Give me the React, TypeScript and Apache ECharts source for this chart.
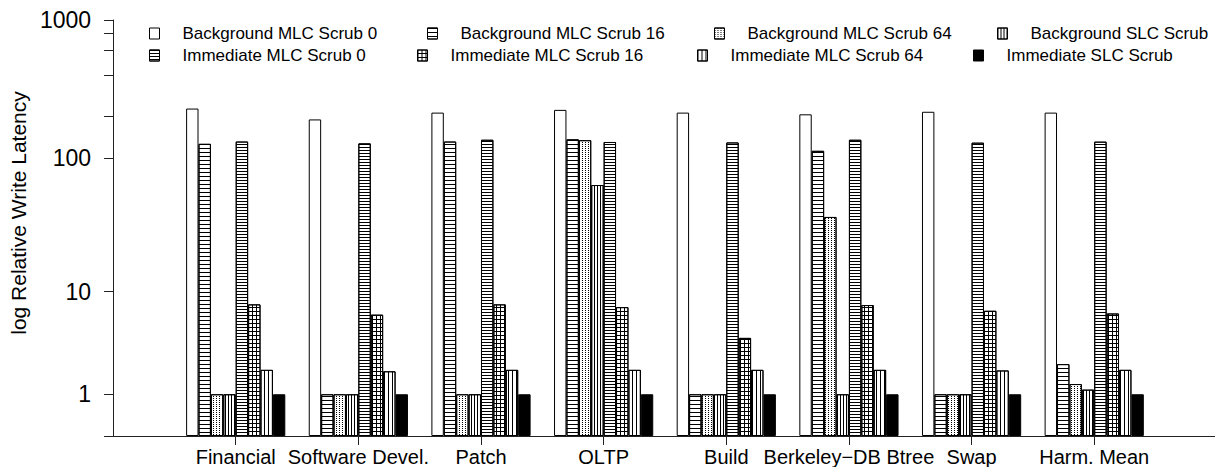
import React, { useEffect, useRef } from 'react';
import * as echarts from 'echarts';

const categories = ['Financial', 'Software Devel.', 'Patch', 'OLTP', 'Build', 'Berkeley\u2212DB Btree', 'Swap', 'Harm. Mean'];

const seriesNames = [
  'Background MLC Scrub 0',
  'Background MLC Scrub 16',
  'Background MLC Scrub 64',
  'Background SLC Scrub',
  'Immediate MLC Scrub 0',
  'Immediate MLC Scrub 16',
  'Immediate MLC Scrub 64',
  'Immediate SLC Scrub',
];

const bgMlc0 = [229, 191, 214, 224, 214, 208, 217, 214];
const bgMlc16 = [127, 1, 132, 137, 1, 113, 1, 2.3];
const bgMlc64 = [1, 1, 1, 135, 1, 37, 1, 1.37];
const bgSlc = [1, 1, 1, 63.6, 1, 1, 1, 1.16];
const imMlc0 = [132, 128, 136, 131, 130, 136, 129.5, 131.7];
const imMlc16 = [7.9, 6.5, 7.9, 7.5, 4.1, 7.8, 7.0, 6.65];
const imMlc64 = [2, 1.93, 2, 2, 2, 2, 1.97, 2];
const imSlc = [1, 1, 1, 1, 1, 1, 1, 1];

const yTickLabels = [1, 10, 100, 1000];
const yMinorTicks = [0, 200, 400, 600, 800];

const t = (v: number) => Math.log10(v + 1);

const INK = '#000';

const decals: any[] = [
  null,
  { symbol: 'rect', symbolSize: 1, color: INK, dashArrayX: [1, 0], dashArrayY: [1, 3] },
  { symbol: 'rect', symbolSize: 1, color: INK, dashArrayX: [1, 2], dashArrayY: [1, 1] },
  { symbol: 'rect', symbolSize: 1, color: INK, dashArrayX: [1, 2], dashArrayY: [1, 0] },
  { symbol: 'rect', symbolSize: 1, color: INK, dashArrayX: [1, 0], dashArrayY: [1, 2] },
  { symbol: 'rect', symbolSize: 1, color: INK, dashArrayX: [[1, 0], [1, 3], [1, 3], [1, 3]], dashArrayY: [1, 0] },
  { symbol: 'rect', symbolSize: 1, color: INK, dashArrayX: [1, 3], dashArrayY: [1, 0] },
  null,
];

const seriesValues = [bgMlc0, bgMlc16, bgMlc64, bgSlc, imMlc0, imMlc16, imMlc64, imSlc];

// legend layout: two rows of four entries
const legendLefts = [149, 427, 714, 997, 149, 417, 697, 973];
const legendTops = [25, 25, 25, 25, 47, 47, 47, 47];

export default function App() {
  const ref = useRef<HTMLDivElement>(null);
  useEffect(() => {
    if (!ref.current) return;
    const chart = echarts.init(ref.current, null, { renderer: 'svg' });
    const font = 'Liberation Sans, Arial, Helvetica, sans-serif';
    const itemStyleFor = (i: number) => {
      const s: any = {
        color: i === 7 ? '#000' : '#fff',
        borderColor: '#000',
        borderWidth: 1,
      };
      if (decals[i]) s.decal = decals[i];
      return s;
    };
    chart.setOption({
      animation: false,
      backgroundColor: '#fff',
      grid: { left: 106, right: 0, top: 20, bottom: 39, containLabel: false },
      legend: seriesNames.map((n, i) => ({
        left: legendLefts[i],
        top: legendTops[i],
        padding: 0,
        itemWidth: 10,
        itemHeight: 11,
        icon: 'rect',
        selectedMode: false,
        textStyle: { fontFamily: font, fontSize: 17, color: '#000', padding: [0, 0, 0, 18] },
        data: [{ name: n, itemStyle: itemStyleFor(i) }],
      })),
      xAxis: {
        type: 'value',
        min: -1,
        max: 8.05,
        splitLine: { show: false },
        axisLine: { show: true, onZero: false, lineStyle: { color: '#222', width: 1 } },
        axisTick: { show: true, length: 9, customValues: categories.map((_, i) => i), lineStyle: { color: '#222' } },
        axisLabel: {
          customValues: categories.map((_, i) => i),
          formatter: (v: number) => categories[Math.round(v)] ?? '',
          fontFamily: font,
          fontSize: 20,
          color: '#000',
          margin: 11,
        },
      },
      yAxis: {
        type: 'value',
        min: 0,
        max: t(1000),
        name: 'log Relative Write Latency',
        nameLocation: 'middle',
        nameGap: 76,
        nameTextStyle: { fontFamily: font, fontSize: 21, color: '#000', padding: [0, 0, 0, 30] },
        splitLine: { show: false },
        axisLine: { show: true, onZero: false, lineStyle: { color: '#222', width: 1 } },
        axisTick: {
          show: true,
          length: 9,
          customValues: [...yMinorTicks, ...yTickLabels].map(t).sort((a, b) => a - b),
          lineStyle: { color: '#222' },
        },
        axisLabel: {
          customValues: yTickLabels.map(t),
          formatter: (v: number) => String(Math.round(Math.pow(10, v) - 1)),
          fontFamily: font,
          fontSize: 23,
          color: '#000',
          margin: 22,
        },
      },
      series: seriesNames.map((name, i) => ({
        name,
        type: 'bar',
        barWidth: 12.4,
        barGap: '0%',
        itemStyle: itemStyleFor(i),
        emphasis: { disabled: true },
        data: seriesValues[i].map((v, k) => [k, t(v)]),
      })),
    });
    return () => chart.dispose();
  }, []);
  return <div ref={ref} style={{ width: 1223, height: 475, margin: -8 }} />;
}
